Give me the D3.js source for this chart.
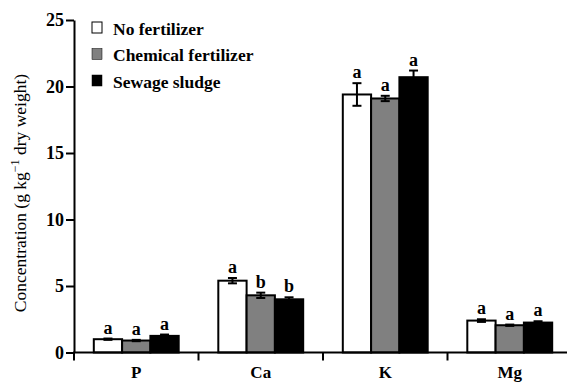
<!DOCTYPE html>
<html>
<head>
<meta charset="utf-8">
<script src="https://cdn.jsdelivr.net/npm/d3@7"></script>
<style>
  body { margin: 0; background: #fff; }
  svg { display: block; font-family: 'Times New Roman', 'Liberation Serif', serif; }
  svg text { font-family: 'Times New Roman', 'Liberation Serif', serif; }
  .bold { font-weight: bold; }
</style>
</head>
<body>
<svg class="chart" width="567" height="383"></svg>
<script>
const elements = ['P', 'Ca', 'K', 'Mg'];
const treatments = ['No fertilizer', 'Chemical fertilizer', 'Sewage sludge'];
const fills = ['#ffffff', '#808080', '#000000'];
const yTicks = [0, 5, 10, 15, 20, 25];

// values per element, in treatment order
const means = [
  [1.0, 0.9, 1.25],
  [5.4, 4.3, 4.0],
  [19.4, 19.1, 20.7],
  [2.4, 2.05, 2.25],
];
const errors = [
  [0.05, 0.05, 0.1],
  [0.2, 0.2, 0.15],
  [0.85, 0.2, 0.5],
  [0.1, 0.05, 0.1],
];
const letters = [
  ['a', 'a', 'a'],
  ['a', 'b', 'b'],
  ['a', 'a', 'a'],
  ['a', 'a', 'a'],
];

const svg = d3.select('.chart');
const plot = { left: 74, right: 572, top: 20, bottom: 352.5 };

const x = d3.scaleBand().domain(elements).range([plot.left, plot.right]);
const xSub = d3.scaleBand().domain(treatments).range([0, x.bandwidth()]).paddingOuter(0.7);
const y = d3.scaleLinear().domain([0, 25]).range([plot.bottom, plot.top]);

const rows = elements.flatMap((el, i) => treatments.map((t, j) => ({
  el, t, j, value: means[i][j], err: errors[i][j], letter: letters[i][j],
})));

// bars
svg.append('g').selectAll('rect')
  .data(rows)
  .enter()
  .append('rect')
  .attr('x', (d) => x(d.el) + xSub(d.t))
  .attr('y', (d) => y(d.value))
  .attr('width', xSub.bandwidth())
  .attr('height', (d) => y(0) - y(d.value))
  .attr('fill', (d) => fills[d.j])
  .attr('stroke', '#000')
  .attr('stroke-width', 2);

// error bars
const eb = svg.append('g').attr('stroke', '#000').attr('stroke-width', 2);
rows.forEach((d) => {
  const cx = x(d.el) + xSub(d.t) + xSub.bandwidth() / 2;
  const hi = y(d.value + d.err);
  const lo = y(d.value - d.err);
  eb.append('line').attr('x1', cx).attr('x2', cx).attr('y1', hi).attr('y2', lo);
  eb.append('line').attr('x1', cx - 4.5).attr('x2', cx + 4.5).attr('y1', hi).attr('y2', hi);
  eb.append('line').attr('x1', cx - 4.5).attr('x2', cx + 4.5).attr('y1', lo).attr('y2', lo);
});

// significance letters
svg.append('g').selectAll('text')
  .data(rows)
  .enter()
  .append('text')
  .classed('bold', true)
  .attr('x', (d) => x(d.el) + xSub(d.t) + xSub.bandwidth() / 2)
  .attr('y', (d) => y(d.value + d.err) - 5)
  .attr('text-anchor', 'middle')
  .attr('font-size', 18)
  .text((d) => d.letter);

// y axis
const yAxis = d3.axisLeft(y).tickValues(yTicks).tickSize(8).tickSizeOuter(0).tickPadding(2);
const gy = svg.append('g').attr('transform', `translate(${plot.left}, 0)`).call(yAxis);
gy.attr('font-family', null).attr('font-size', null);
gy.selectAll('path, line').attr('stroke', '#000').attr('stroke-width', 2);
gy.selectAll('text').attr('font-size', 18).attr('font-weight', 'bold').attr('fill', '#000');

// x axis line with ticks at category boundaries
const gx = svg.append('g').attr('stroke', '#000').attr('stroke-width', 2);
gx.append('line').attr('x1', plot.left - 1).attr('x2', plot.right).attr('y1', y(0)).attr('y2', y(0));
[plot.left, ...elements.slice(1).map((e) => x(e))].forEach((bx) => {
  gx.append('line').attr('x1', bx).attr('x2', bx).attr('y1', y(0)).attr('y2', y(0) + 8);
});

svg.append('g').selectAll('text')
  .data(elements)
  .enter()
  .append('text')
  .classed('bold', true)
  .attr('x', (d) => x(d) + x.bandwidth() / 2)
  .attr('y', 378)
  .attr('text-anchor', 'middle')
  .attr('font-size', 17)
  .text((d) => d);

// y title
const title = svg.append('text')
  .attr('transform', 'translate(26, 193) rotate(-90)')
  .attr('text-anchor', 'middle')
  .attr('font-size', 17.5);
title.append('tspan').text('Concentration (g kg');
title.append('tspan').attr('dy', -7).attr('font-size', 12).text('\u22121');
title.append('tspan').attr('dy', 7).text(' dry weight)');

// legend
const legend = svg.append('g').attr('transform', 'translate(92, 22)');
treatments.forEach((t, i) => {
  const row = legend.append('g').attr('transform', `translate(0, ${i * 26.5})`);
  row.append('rect').attr('width', 10).attr('height', 11).attr('fill', fills[i])
    .attr('stroke', '#000').attr('stroke-width', i === 0 ? 1 : 0.5);
  row.append('text').classed('bold', true).attr('x', 21).attr('y', 12.5)
    .attr('font-size', 17.5).text(t);
});
</script>
</body>
</html>
